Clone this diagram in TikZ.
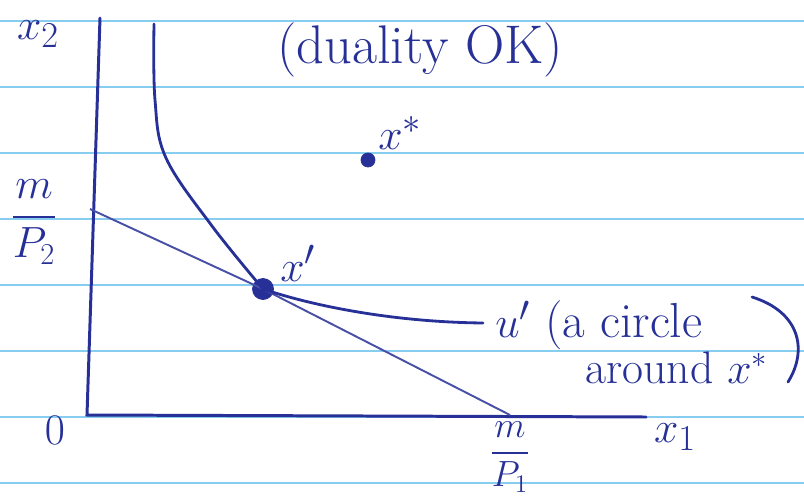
\documentclass[tikz,border=0pt]{standalone}
\usepackage{amsmath,amssymb}
\usepackage{tikz}
\definecolor{ink}{RGB}{38,48,150}
\definecolor{rule}{RGB}{135,205,240}
\newcommand{\hand}[1]{\fontsize{#1}{#1}\selectfont}

\begin{document}
\begin{tikzpicture}[x=0.02cm, y=-0.02cm,
        axis/.style={ink, line width=1.7pt, line cap=round},
        curve/.style={ink, line width=1.6pt, line cap=round},
        budget/.style={ink!85, line width=1.1pt},
        lbl/.style={ink, inner sep=0pt},
        bundle/.style={circle, fill=ink, draw=ink, inner sep=0pt}]
    \useasboundingbox (0,0) rectangle (804,497);
    % lined paper
    \foreach \ly in {21,87,153,219,285,351,417,483}
        \draw[rule, line width=1.3pt] (0,\ly) -- (804,\ly);
    \coordinate (O) at (87,415);
    \coordinate (ytop) at (100,18);
    \coordinate (xend) at (646,417);
    \coordinate (b2) at (90,209);
    \coordinate (b1) at (510,415);
    \coordinate (utop) at (154,24);
    \coordinate (uend) at (483,323);
    \node[bundle, minimum size=12pt] (xp) at (263,289) {};
    \node[bundle, minimum size=8pt] (xs) at (368,160) {};
    % axes and budget line
    \draw[axis] (ytop) -- (O) -- (xend);
    \draw[budget] (b2) -- (xp.center) -- (b1);
    % indifference curve u'
    \draw[curve] plot[smooth, tension=0.6] coordinates {(utop) (155,100) (166,158) (212,226) (xp.center)}
        .. controls (310,305) and (390,322) .. (uend);
    % labels
    \node[lbl, font=\hand{28}] (lx2) at (38,34) {$x_2$};
    \node[lbl, font=\hand{26}] (lmp2) at (34,222) {$\dfrac{m}{P_2}$};
    \node[lbl, font=\hand{24}] (lO) at (55,430) {$0$};
    \node[lbl, font=\hand{20}] (lmp1) at (510,457) {$\dfrac{m}{P_1}$};
    \node[lbl, font=\hand{28}] (lx1) at (675,437) {$x_1$};
    \node[lbl, font=\hand{28}, anchor=south west] (lxp) at (280,282) {$x'$};
    \node[lbl, font=\hand{28}, anchor=south west] (lxs) at (378,150) {$x^{*}$};
    \node[lbl, font=\hand{31}] (ldual) at (420,50) {(duality OK)};
    \node[lbl, font=\hand{28}, anchor=west] (lu) at (495,325) {$u'$ (a circle};
    \node[lbl, font=\hand{26}, anchor=west] (laround) at (585,368) {around $x^{*}$};
    \draw[curve] (752,297) .. controls (800,312) and (808,350) .. (788,382);
\end{tikzpicture}
\end{document}
